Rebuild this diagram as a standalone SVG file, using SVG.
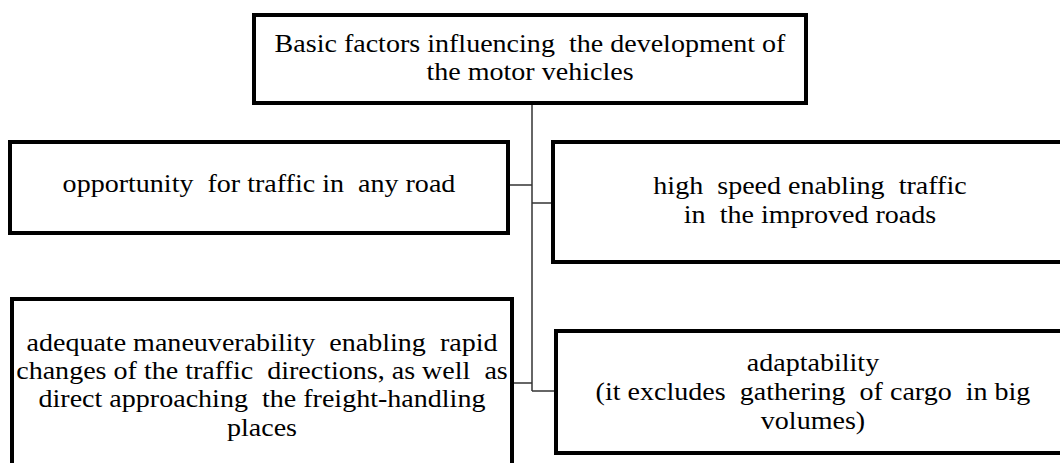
<svg xmlns="http://www.w3.org/2000/svg" width="1060" height="463" viewBox="0 0 1060 463">
  <style>
    .box { fill: #fff; stroke: #000; stroke-width: 4; }
    .link { fill: none; stroke: #333; stroke-width: 1.5; }
    text { font-family: 'Liberation Serif', 'Times New Roman', serif; font-size: 25.5px; fill: #000; text-anchor: middle; white-space: pre; }
  </style>
  <rect width="1060" height="463" fill="#fff"/>

  <g id="connectors">
    <path class="link" d="M532 103 V391"/>
    <path class="link" d="M510 185 H532"/>
    <path class="link" d="M532 203 H553"/>
    <path class="link" d="M512 383 H532"/>
    <path class="link" d="M532 391 H556"/>
  </g>

  <!-- labels are set in a slightly widened serif (x scaled 1.1 about the label centre) -->
  <g id="root">
    <rect class="box" x="254" y="15" width="552" height="88"/>
    <g transform="matrix(1.1 0 0 1 -53 0)">
      <text x="530" y="52">Basic factors influencing  the development of</text>
      <text x="530" y="80">the motor vehicles</text>
    </g>
  </g>

  <g id="any-road">
    <rect class="box" x="10" y="142" width="498" height="91"/>
    <g transform="matrix(1.1 0 0 1 -25.9 0)">
      <text x="259" y="192">opportunity  for traffic in  any road</text>
    </g>
  </g>

  <g id="high-speed">
    <rect class="box" x="553" y="142" width="520" height="120"/>
    <g transform="matrix(1.1 0 0 1 -81 0)">
      <text x="810" y="194">high  speed enabling  traffic</text>
      <text x="810" y="223">in  the improved roads</text>
    </g>
  </g>

  <g id="maneuverability">
    <rect class="box" x="12" y="299" width="500" height="200"/>
    <g transform="matrix(1.1 0 0 1 -26.2 0)">
      <text x="262" y="351">adequate maneuverability  enabling  rapid</text>
      <text x="262" y="379">changes of the traffic  directions, as well  as</text>
      <text x="262" y="407.5">direct approaching  the freight-handling</text>
      <text x="262" y="436">places</text>
    </g>
  </g>

  <g id="adaptability">
    <rect class="box" x="556" y="331" width="520" height="122"/>
    <g transform="matrix(1.1 0 0 1 -81.3 0)">
      <text x="813" y="371">adaptability</text>
      <text x="813" y="400">(it excludes  gathering  of cargo  in big</text>
      <text x="813" y="429">volumes)</text>
    </g>
  </g>
</svg>
